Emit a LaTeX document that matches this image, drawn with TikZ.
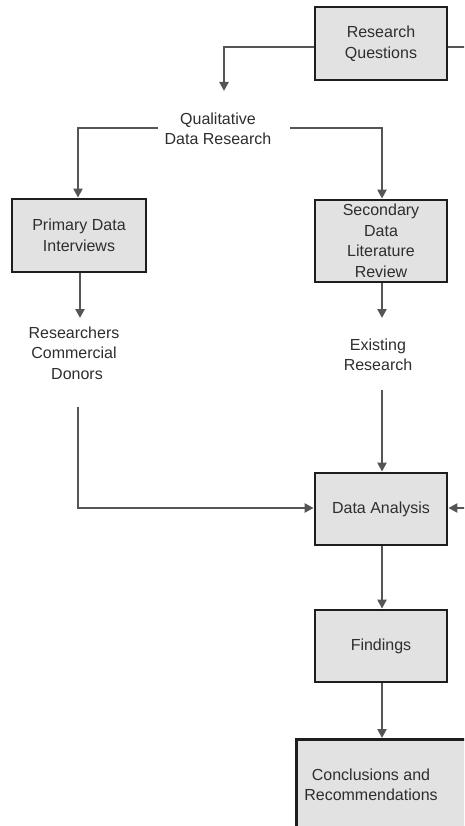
\documentclass[tikz,border=0pt]{standalone}
\usepackage{fontspec}
\setmainfont{Liberation Sans}
\usetikzlibrary{arrows.meta}
\definecolor{boxfill}{HTML}{E2E2E2}
\definecolor{boxline}{HTML}{1E1E1E}
\definecolor{flow}{HTML}{555555}
\definecolor{ink}{HTML}{2E2E2E}
\begin{document}
\begin{tikzpicture}[x=1pt,y=-1pt,
  stepbox/.style={draw=boxline, fill=boxfill, line width=2.8pt, minimum width=132pt,
    inner sep=0pt, align=center, text=ink, font=\fontsize{16}{20.5}\selectfont},
  label/.style={inner sep=0pt, align=center, text=ink, font=\fontsize{16}{20.5}\selectfont},
  flowline/.style={draw=flow, line width=2.4pt},
  arrow/.style={flowline, -{Triangle[length=9pt,width=9pt]}}]
\useasboundingbox (0,0) rectangle (464,826);
\clip (0,0) rectangle (464,826);
\fill[white] (0,0) rectangle (464,826);

% boxes
\node[stepbox, minimum height=73pt] (rq) at (381,43.5) {Research\\Questions};
\node[stepbox, minimum width=134pt, minimum height=73pt] (prim) at (79,235.5) {Primary Data\\Interviews};
\node[stepbox, minimum height=82pt] (sec) at (381,241) {Secondary\\Data\\Literature\\Review};
\node[stepbox, minimum height=72pt] (da) at (381,509) {Data Analysis};
\node[stepbox, minimum height=72pt] (find) at (381,646) {Findings};
\node[stepbox, minimum width=200pt, minimum height=120pt, anchor=north west] (conc) at (295,738) {};
\node[label] (conctext) at (371,785) {Conclusions and\\Recommendations};

% free-standing labels
\node[label] (qual) at (218,129) {Qualitative\\Data Research};
\node[label] (who) at (74,353) {Researchers\\Commercial\\\hspace{6pt}Donors};
\node[label] (exist) at (378,355) {Existing\\Research};

% coordinates for the open line ends
\coordinate (qtip) at (224,91);
\coordinate (qleft) at (158,128);
\coordinate (qright) at (290,128);
\coordinate (rqout) at (470,47);
\coordinate (whotip) at (80,318);
\coordinate (whofoot) at (78,407);
\coordinate (extip) at (382,318);
\coordinate (exfoot) at (382,390);
\coordinate (dain) at (470,508);

% connectors
\draw[arrow] (rq.west |- 0,47) -| (qtip);
\draw[flowline] (rq.east |- 0,47) -- (rqout);
\draw[arrow] (qleft) -| (prim.north -| 78,0);
\draw[arrow] (qright) -| (sec.north -| 382,0);
\draw[arrow] (prim.south -| 80,0) -- (whotip);
\draw[arrow] (sec.south -| 382,0) -- (extip);
\draw[arrow] (whofoot) |- (da.west |- 0,508);
\draw[arrow] (exfoot) -- (da.north -| 382,0);
\draw[arrow] (dain) -- (da.east |- 0,508);
\draw[arrow] (da.south -| 382,0) -- (find.north -| 382,0);
\draw[arrow] (find.south -| 382,0) -- (conc.north -| 382,0);
\end{tikzpicture}
\end{document}
